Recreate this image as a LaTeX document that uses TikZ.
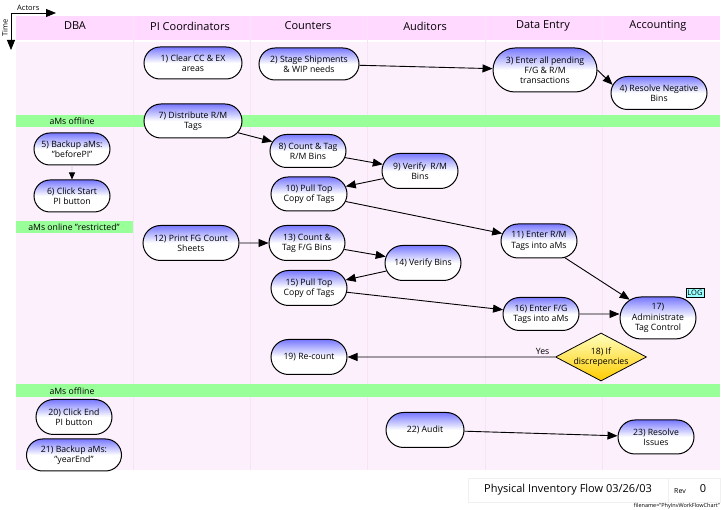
\documentclass[tikz,border=0pt]{standalone}
\usepackage{fontspec}
\setmainfont{Open Sans}
\usetikzlibrary{arrows.meta,shapes.misc,shapes.geometric}
\definecolor{lanehead}{HTML}{FFD9FF}
\definecolor{lanebody}{HTML}{FDF0FD}
\definecolor{lanerule}{HTML}{F6E4F6}
\definecolor{bandgreen}{HTML}{99FF99}
\definecolor{stepblue}{HTML}{7878FF}
\definecolor{logcyan}{HTML}{99FFFF}
\definecolor{decgold}{HTML}{FFCC00}

\begin{document}
\begin{tikzpicture}[x=1pt,y=-1pt,font=\fontsize{8.7}{10.2}\selectfont,>={Triangle[length=10pt,width=8pt]},task/.style={rounded rectangle, draw, line width=1pt, top color=stepblue, bottom color=white, middle color=white, align=center, minimum width=78pt, minimum height=34pt, inner sep=1pt},arrow/.style={->, line width=0.9pt},band/.style={fill=bandgreen, draw=none},lane/.style={font=\fontsize{11}{13}\selectfont}]
\useasboundingbox (0,0) rectangle (721,510);
% swim lanes
\fill[lanehead] (16,16) rectangle (720,40);
\fill[lanebody] (16,42) rectangle (720,470);
\foreach \x in {133,250,367,485,602} \draw[lanerule, line width=0.8pt] (\x,16) -- (\x,470);
\node[lane] (hdba) at (75,26) {DBA};
\node[lane] (hpi) at (190,26) {PI Coordinators};
\node[lane] (hcount) at (308,26) {Counters};
\node[lane] (haudit) at (425,26) {Auditors};
\node[lane] (hentry) at (543,26) {Data Entry};
\node[lane] (hacct) at (658,26) {Accounting};
% axes
\node[font=\fontsize{7.5}{9}\selectfont, anchor=south west, inner sep=1pt] (actors) at (16,12) {Actors};
\coordinate (ax0) at (11,13);\coordinate (ax1) at (56,13);\coordinate (ay1) at (11,50);
\draw[->, line width=0.8pt] (ax0) -- (ax1);\draw[->, line width=0.8pt] (ax0) -- (ay1);
\node[font=\fontsize{7.5}{9}\selectfont, rotate=90, inner sep=1pt] (time) at (5,28) {Time};
% status bands
\fill[band] (16,115) rectangle (720,127);\node[inner sep=0pt] (off1) at (72,121) {aMs offline};
\fill[band] (16,221) rectangle (133,233);\node[inner sep=0pt] (onr) at (74,227) {aMs online "restricted"};
\fill[band] (16,384) rectangle (720,397);\node[inner sep=0pt] (off2) at (72,391) {aMs offline};
% steps
\node[task, minimum width=100pt, minimum height=32pt] (clear) at (193,63) {1) Clear CC \& EX\\areas};
\node[task, minimum width=102pt, minimum height=32pt] (stage) at (309,64) {2) Stage Shipments\\\& WIP needs};
\node[task, minimum width=106pt, minimum height=44pt] (pending) at (545,70) {3) Enter all pending\\F/G \& R/M\\transactions};
\node[task, minimum width=98pt, minimum height=33pt] (negbins) at (659,93) {4) Resolve Negative\\Bins};
\node[task, minimum width=100pt] (distrib) at (193,121) {7) Distribute R/M\\Tags};
\node[task, minimum height=32pt] (backup) at (72,149) {5) Backup aMs:\\"beforePI"};
\node[task, minimum height=32pt] (start) at (72,196) {6) Click Start\\PI button};
\node[task, minimum height=33pt] (countrm) at (308,151) {8) Count \& Tag\\R/M Bins};
\node[task, minimum height=35pt] (verifyrm) at (420,171) {9) Verify \ R/M\\Bins};
\node[task] (pullrm) at (309,194) {10) Pull Top\\Copy of Tags};
\node[task] (enterrm) at (539,241) {11) Enter R/M\\Tags into aMs};
\node[task, minimum width=98pt, minimum height=35pt] (printfg) at (191,243) {12) Print FG Count\\Sheets};
\node[task, minimum height=35pt] (countfg) at (307,243) {13) Count \&\\Tag F/G Bins};
\node[task, minimum height=35pt] (verifyfg) at (423,263) {14) Verify Bins};
\node[task, minimum height=35pt] (pullfg) at (309,288) {15) Pull Top\\Copy of Tags};
\node[task, minimum height=33pt] (enterfg) at (541,314) {16) Enter F/G\\Tags into aMs};
\node[task, minimum height=42pt] (admin) at (658,318) {17)\\Administrate\\Tag Control};
\node[draw, fill=logcyan, font=\fontsize{7.5}{9}\selectfont, inner sep=1.5pt, line width=0.5pt] (log) at (695,293) {LOG};
\node[diamond, draw, line width=0.8pt, top color=yellow!25, bottom color=decgold, align=center, minimum width=91pt, minimum height=48pt, inner sep=0pt, aspect=1.9] (discrep) at (601,357) {18) If\\discrepencies};
\node[task, minimum height=35pt] (recount) at (309,357) {19) Re-count};
\node[task, minimum height=35pt] (endpi) at (74,417) {20) Click End\\PI button};
\node[task, minimum width=97pt, minimum height=32pt] (backupye) at (74,455) {21) Backup aMs:\\"yearEnd"};
\node[task, minimum width=80pt, minimum height=35pt] (audit) at (425,430) {22) Audit};
\node[task, minimum height=34pt] (resolve) at (656,437) {23) Resolve\\Issues};
% flow
\draw[arrow] (stage) -- (pending);\draw[arrow] (pending.east) -- (negbins.170);
\draw[arrow] (distrib) -- (countrm);\draw[line width=0.9pt, gray!40, -{Triangle[length=7pt,width=6pt,color=black]}] (backup) -- (start);
\draw[arrow] (countrm) -- (verifyrm);\draw[arrow] (verifyrm) -- (pullrm);\draw[arrow] (pullrm) -- (enterrm);
\draw[arrow] (printfg) -- (countfg);\draw[arrow] (countfg) -- (verifyfg);\draw[arrow] (verifyfg) -- (pullfg);\draw[arrow] (pullfg) -- (enterfg);
\draw[arrow] (enterrm) -- (admin);\draw[arrow] (enterfg) -- (enterfg -| admin.west);
\draw[arrow] (discrep) -- node[pos=0.06, above, inner sep=2pt] {Yes} (recount);
\draw[arrow] (audit) -- (resolve);
% footer
\draw[gray!12, line width=0.5pt] (468,478) rectangle (668,502) (668,478) rectangle (720,502);
\node[font=\fontsize{11}{13}\selectfont] (title) at (568,490) {Physical Inventory Flow 03/26/03};
\node[font=\fontsize{7}{9}\selectfont] (rev) at (680,491) {Rev};
\node[font=\fontsize{11}{13}\selectfont] (revno) at (703,489) {0};
\node[font=\fontsize{5.5}{7}\selectfont, anchor=east, inner sep=0pt] (fname) at (720,506) {filename="PhyInvWorkFlowChart"};
\end{tikzpicture}
\end{document}
